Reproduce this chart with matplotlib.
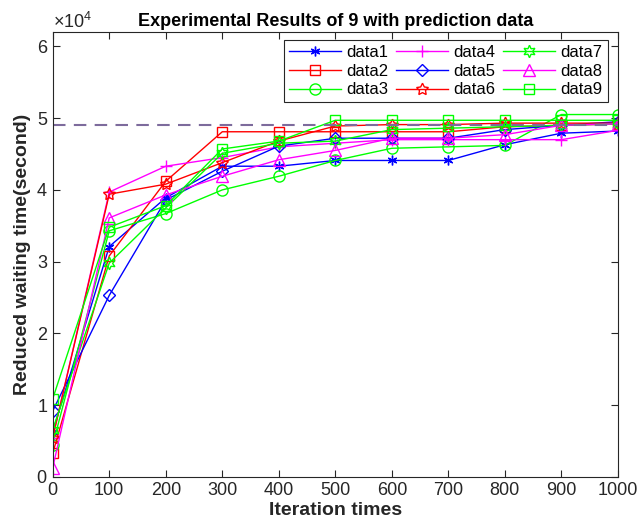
import matplotlib
matplotlib.use("Agg")
import matplotlib.pyplot as plt
from matplotlib.ticker import ScalarFormatter

plt.rcParams['font.family'] = ['Liberation Sans', 'DejaVu Sans']
plt.rcParams['mathtext.fontset'] = 'custom'
plt.rcParams['mathtext.rm'] = 'Liberation Sans'

iterations = [0, 100, 200, 300, 400, 500, 600, 700, 800, 900, 1000]
data1 = [0.63, 3.21, 3.89, 4.33, 4.33, 4.41, 4.41, 4.41, 4.63, 4.79, 4.82]
data2 = [0.33, 3.08, 4.12, 4.81, 4.81, 4.81, 4.81, 4.81, 4.88, 4.90, 4.92]
data3 = [0.45, 3.43, 3.67, 4.00, 4.19, 4.41, 4.58, 4.60, 4.62, 5.05, 5.05]
data4 = [0.55, 3.97, 4.33, 4.45, 4.60, 4.65, 4.70, 4.70, 4.70, 4.70, 4.83]
data5 = [0.92, 2.53, 3.86, 4.26, 4.61, 4.72, 4.72, 4.72, 4.84, 4.90, 4.95]
data6 = [0.55, 3.94, 4.08, 4.38, 4.68, 4.89, 4.91, 4.91, 4.93, 4.93, 4.93]
data7 = [0.66, 2.98, 3.75, 4.51, 4.65, 4.68, 4.84, 4.86, 4.88, 4.90, 4.92]
data8 = [0.13, 3.61, 3.93, 4.19, 4.42, 4.55, 4.72, 4.72, 4.77, 4.90, 4.92]
data9 = [1.09, 3.48, 3.78, 4.57, 4.68, 4.97, 4.97, 4.97, 4.97, 4.97, 4.97]
reference_value = 4.91
scale = 1e4

series = [data1, data2, data3, data4, data5, data6, data7, data8, data9]
names = ['data1', 'data2', 'data3', 'data4', 'data5', 'data6', 'data7', 'data8', 'data9']
colors = ['#0000ff', '#ff0000', '#00ff00', '#ff00ff', '#0000ff', '#ff0000', '#00ff00', '#ff00ff', '#00ff00']
markers = [(6, 2, 0), 's', 'o', '+', 'D', (5, 1, 0), (6, 1, 0), '^', 's']
msizes = [7, 6.5, 8, 9, 6.5, 9, 9, 8.5, 6.5]

fig = plt.figure(figsize=(6.39, 5.28), dpi=100)
ax = fig.add_axes([0.0825, 0.0966, 0.8845, 0.8428])

for vals, nm, c, m, ms in zip(series, names, colors, markers, msizes):
    y = [v * scale for v in vals]
    ax.plot(iterations, y, color=c, lw=1, marker=m, ms=ms, mew=1,
            markerfacecolor='none', label=nm)

ax.axhline(reference_value * scale, color='#7d6b9c', lw=1.5, ls=(0, (6, 4)))

ax.set_xlim(0, 1000)
ax.set_ylim(0, 6.2e4)
ax.set_xticks(iterations)
ax.set_yticks([0, 1e4, 2e4, 3e4, 4e4, 5e4, 6e4])
fmt = ScalarFormatter(useMathText=True)
fmt.set_powerlimits((0, 0))
ax.yaxis.set_major_formatter(fmt)
ax.yaxis.get_offset_text().set_fontsize(13)
ax.yaxis.get_offset_text().set_color('#262626')

ax.tick_params(direction='in', top=True, right=True, labelsize=13, colors='#262626',
               length=5, width=0.8)
for sp in ax.spines.values():
    sp.set_color('#262626')
    sp.set_linewidth(0.8)

ax.set_xlabel('Iteration times', fontsize=14, fontweight='bold', color='#262626', labelpad=2)
ax.set_ylabel('Reduced waiting time(second)', fontsize=14, fontweight='bold', color='#262626', labelpad=4)
ax.set_title('Experimental Results of 9 with prediction data', fontsize=13, fontweight='bold', pad=4)

leg = ax.legend(ncol=3, loc='upper right', fontsize=12, handlelength=3.1, columnspacing=0.45,
                handletextpad=0.35, labelspacing=0.22, borderpad=0.3, borderaxespad=0,
                fancybox=False, framealpha=1, edgecolor='#262626',
                bbox_to_anchor=(0.982, 0.982))
leg.get_frame().set_linewidth(0.8)

fig.savefig('out.png', dpi=100)
